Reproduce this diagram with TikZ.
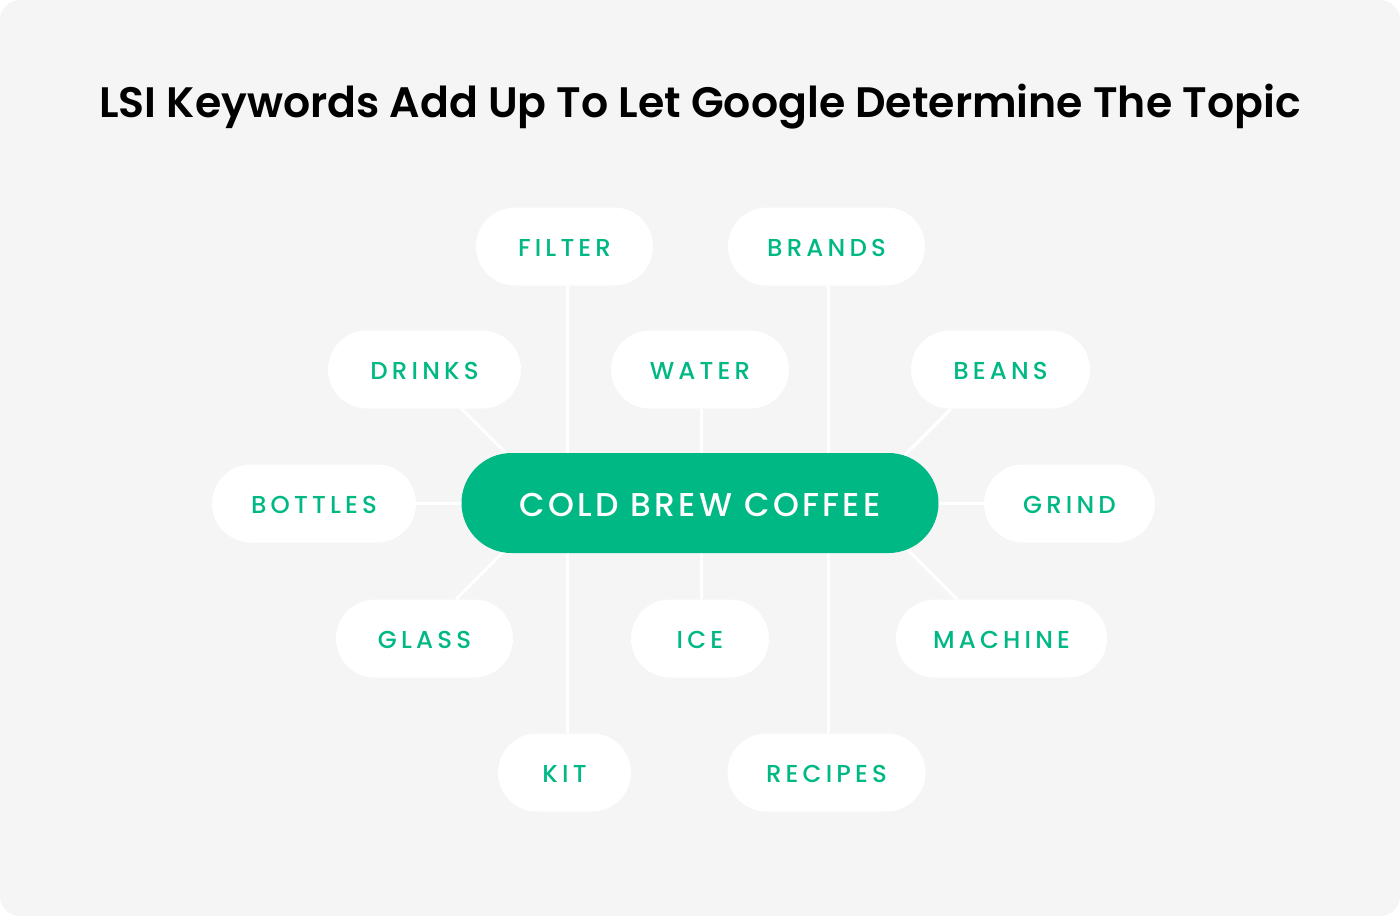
\documentclass[tikz,border=0pt]{standalone}
\usepackage{fontspec}
\usetikzlibrary{calc}
\newfontfamily\titlef{Poppins SemiBold}
\newfontfamily\lblf{Poppins Medium}[LetterSpace=17]
\newfontfamily\hubf{Poppins Medium}[LetterSpace=10]
\definecolor{brand}{HTML}{00B884}
\definecolor{paper}{HTML}{F5F5F5}
\pgfdeclarelayer{bg}
\pgfdeclarelayer{lines}
\pgfsetlayers{bg,lines,main}
\tikzset{
  kw/.style={fill=white, rounded corners=39pt, minimum height=78pt, inner sep=0pt,
    text height=20.5pt, text depth=0pt,
    text=brand, font=\lblf\fontsize{24.5}{24.5}\selectfont},
  hub/.style={fill=brand, rounded corners=50pt, minimum height=100pt, minimum width=477pt,
    inner sep=0pt, text height=26pt, text depth=0pt,
    text=white, font=\hubf\fontsize{33}{33}\selectfont},
  link/.style={draw=white, line width=3pt}
}
\begin{document}
\begin{tikzpicture}[x=1pt,y=-1pt]
\useasboundingbox (0,0) rectangle (1400,918);
\begin{pgfonlayer}{bg}
\fill[paper, rounded corners=20pt] (0,0) rectangle (1400,916);
\end{pgfonlayer}
\node[anchor=base, font=\titlef\fontsize{42.6}{42.6}\selectfont] (title) at (700,117) {LSI Keywords Add Up To Let Google Determine The Topic};
\node[hub] (hub) at (700,503) {COLD BREW COFFEE};
\node[kw, minimum width=177pt] (filter) at (564.5,246.5) {FILTER};
\node[kw, minimum width=197pt] (brands) at (826.5,246.5) {BRANDS};
\node[kw, minimum width=193pt] (drinks) at (424.5,369.5) {DRINKS};
\node[kw, minimum width=178pt] (water) at (700,369.5) {WATER};
\node[kw, minimum width=179pt] (beans) at (1000.5,369.5) {BEANS};
\node[kw, minimum width=204pt] (bottles) at (314,503.5) {BOTTLES};
\node[kw, minimum width=171pt] (grind) at (1069.5,503.5) {GRIND};
\node[kw, minimum width=177pt] (glass) at (424.5,638.5) {GLASS};
\node[kw, minimum width=138pt] (ice) at (700,638.5) {ICE};
\node[kw, minimum width=211pt] (machine) at (1001.5,638.5) {MACHINE};
\node[kw, minimum width=133pt] (kit) at (564.5,772.5) {KIT};
\node[kw, minimum width=198pt] (recipes) at (826.5,772.5) {RECIPES};
\begin{pgfonlayer}{lines}
\draw[link] ($(filter.south)+(2.5,0)$) -- ($(kit.north)+(2.5,0)$);
\draw[link] ($(brands.south)+(1.5,0)$) -- ($(recipes.north)+(1.5,0)$);
\draw[link] ($(water.south)+(1,0)$) -- ($(ice.north)+(1,0)$);
\draw[link] (bottles.east) -- (grind.west);
\draw[link] ($(drinks.south)+(37,0)$) -- ++(60,60);
\draw[link] ($(beans.south)+(-49.5,0)$) -- ++(-60,60);
\draw[link] ($(glass.north)+(31.5,0)$) -- ++(60,-60);
\draw[link] ($(machine.north)+(-44.5,0)$) -- ++(-60,-60);
\end{pgfonlayer}
\end{tikzpicture}
\end{document}
